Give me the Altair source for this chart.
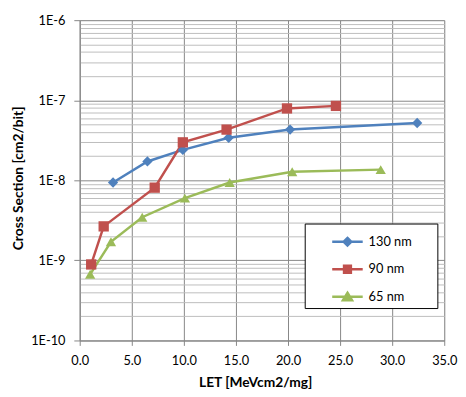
import altair as alt
import pandas as pd

SERIES = ["130 nm", "90 nm", "65 nm"]
COLORS = ["#4F81BD", "#C0504D", "#9BBB59"]
SHAPES = ["diamond", "square", "triangle-up"]

LET_130 = [3.2, 6.5, 9.9, 14.3, 20.2, 32.4]
XS_130 = [9.4e-9, 1.72e-8, 2.4e-8, 3.4e-8, 4.3e-8, 5.2e-8]
LET_90 = [1.1, 2.3, 7.2, 9.9, 14.1, 19.9, 24.6]
XS_90 = [8.9e-10, 2.66e-9, 8.1e-9, 2.98e-8, 4.3e-8, 7.9e-8, 8.5e-8]
LET_65 = [1.0, 3.0, 6.0, 10.1, 14.4, 20.4, 28.9]
XS_65 = [6.7e-10, 1.71e-9, 3.46e-9, 6.0e-9, 9.4e-9, 1.28e-8, 1.36e-8]

X_TICKS = [0, 5, 10, 15, 20, 25, 30, 35]
Y_DECADES = [-10, -9, -8, -7, -6]
Y_TICKS = [m * 10.0 ** e for e in Y_DECADES[:-1] for m in range(1, 10)] + [1e-6]

# legend glyphs: a line segment with the series marker in its middle
# (the trailing move-to only widens the legend frame, it draws nothing)
LEGEND_GLYPHS = [
    "M-1.07,0L1.07,0M0,-0.27L0.27,0L0,0.27L-0.27,0ZM5.73,0",
    "M-1.07,0L1.07,0M-0.24,-0.24L0.24,-0.24L0.24,0.24L-0.24,0.24ZM5.73,0",
    "M-1.07,0L1.07,0M0,-0.28L0.32,0.24L-0.32,0.24ZM5.73,0",
]

rows = []
for name, xs, ys in [(SERIES[0], LET_130, XS_130), (SERIES[1], LET_90, XS_90), (SERIES[2], LET_65, XS_65)]:
    for i, (a, b) in enumerate(zip(xs, ys)):
        rows.append({"series": name, "let": a, "xs": b, "order": i})
df = pd.DataFrame(rows)

FONT = "Lato"
is_dec = "abs(log(datum.value)/LN10 - round(log(datum.value)/LN10)) < 0.001"

x_enc = alt.X("let:Q", scale=alt.Scale(domain=[0, 35], nice=False),
              axis=alt.Axis(values=X_TICKS, format=".1f", title="LET [MeVcm2/mg]",
                            grid=True, gridColor="#868686", gridWidth=1, labelFlush=False,
                            domainColor="#868686", tickColor="#868686", tickSize=5,
                            labelFont=FONT, labelFontSize=13, labelColor="black", labelPadding=9,
                            titleFont=FONT, titleFontSize=14, titleFontWeight="bold", titleColor="black",
                            titleBaseline="middle", titleX=178.5, titleY=43))
y_enc = alt.Y("xs:Q", scale=alt.Scale(type="log", domain=[1e-10, 1e-6], nice=False),
              axis=alt.Axis(values=Y_TICKS, title="Cross Section [cm2/bit]", labelFlush=False,
                            labelExpr=f"({is_dec}) ? '1E' + round(log(datum.value)/LN10) : ''",
                            grid=True,
                            gridColor={"condition": {"test": is_dec, "value": "#868686"}, "value": "#BDBDBD"},
                            gridWidth=1,
                            tickOpacity={"condition": {"test": is_dec, "value": 1}, "value": 0},
                            domainColor="#868686", tickColor="#868686", tickSize=6,
                            labelFont=FONT, labelFontSize=13, labelColor="black", labelPadding=9,
                            titleFont=FONT, titleFontSize=14, titleFontWeight="bold", titleColor="black",
                            titleAngle=270, titleBaseline="middle", titleX=-62, titleY=160.5))

color_scale = alt.Scale(domain=SERIES, range=COLORS)
shape_scale = alt.Scale(domain=SERIES, range=SHAPES)
glyph_scale = alt.Scale(domain=SERIES, range=LEGEND_GLYPHS)

lines = alt.Chart(df).mark_line(strokeWidth=2.5).encode(
    x=x_enc, y=y_enc, order="order:Q",
    color=alt.Color("series:N", scale=color_scale, legend=None),
)
points = alt.Chart(df).mark_point(filled=True, size=110, opacity=1).encode(
    x=x_enc, y=y_enc,
    color=alt.Color("series:N", scale=color_scale, legend=None),
    shape=alt.Shape("series:N", scale=shape_scale, legend=None),
)

leg = alt.Legend(orient="none", legendX=229, legendY=207, title=None,
                 symbolSize=841, symbolStrokeWidth=2.5, symbolOpacity=1,
                 symbolOffset=25, labelOffset=5.5, padding=2.5, rowPadding=3,
                 fillColor="white", strokeColor="black",
                 labelFont=FONT, labelFontSize=13, labelColor="black")

legend_layer = alt.Chart(df).transform_filter("false").mark_point(
    filled=True, opacity=1, strokeWidth=2.5).encode(
    x=x_enc, y=y_enc,
    color=alt.Color("series:N", scale=color_scale, legend=leg),
    stroke=alt.Stroke("series:N", scale=color_scale, legend=leg),
    shape=alt.Shape("series:N", scale=glyph_scale, legend=leg),
)

chart = (alt.layer(lines, points, legend_layer)
         .resolve_scale(shape="independent")
         .resolve_legend(color="independent", stroke="independent", shape="independent")
         .properties(width=371, height=326, autosize="none",
                     padding={"left": 73, "top": 9, "right": 14, "bottom": 46})
         .configure_view(stroke=None).configure(background="white"))

chart.save("out.html", embed_options={"renderer": "svg", "actions": False})
